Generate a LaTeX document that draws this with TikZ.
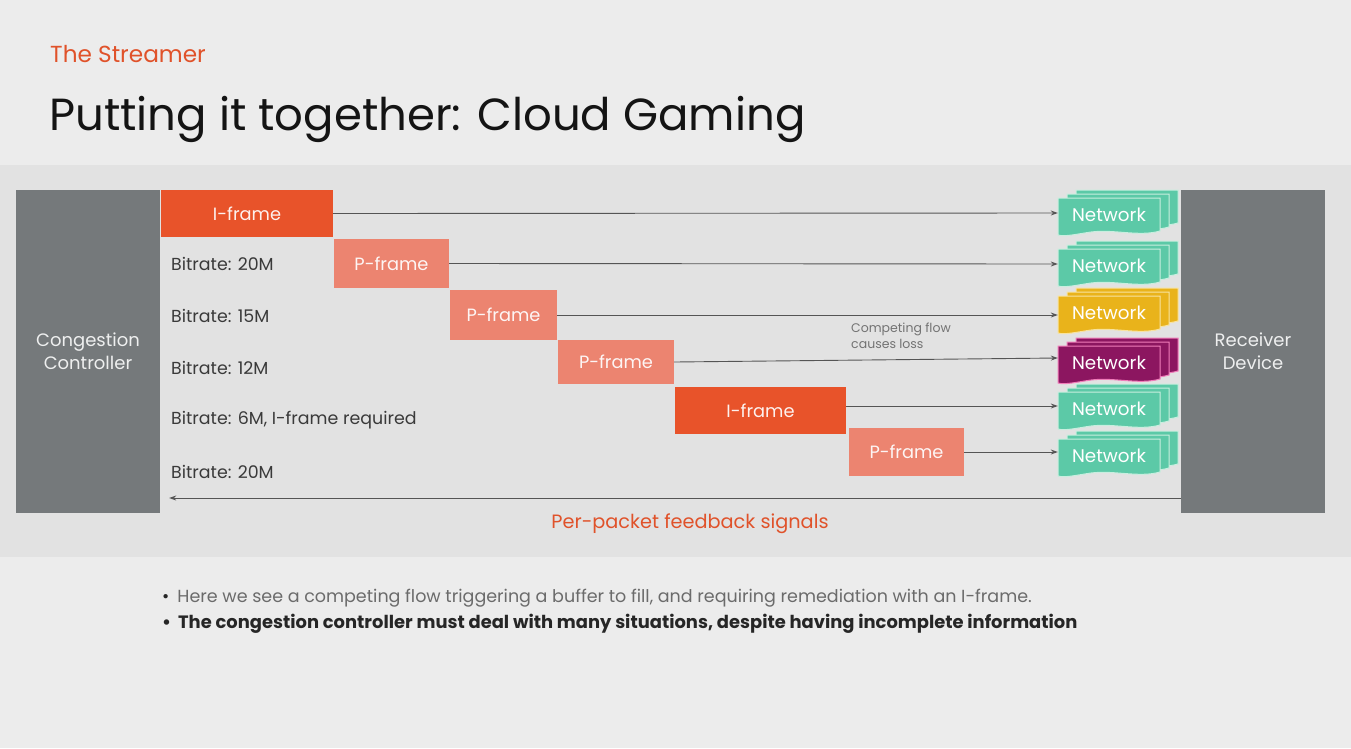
\documentclass[tikz,border=0pt]{standalone}
\usepackage{fontspec}
\setmainfont{Poppins}
\usetikzlibrary{arrows.meta}

\definecolor{pagebg}{HTML}{ECECEC}
\definecolor{bandbg}{HTML}{E2E2E2}
\definecolor{boxgray}{HTML}{75797B}
\definecolor{iframec}{HTML}{E8532A}
\definecolor{pframec}{HTML}{EC8470}
\definecolor{accent}{HTML}{E0522A}
\definecolor{tealc}{HTML}{5CC9A7}
\definecolor{tealedge}{HTML}{C9EEDF}
\definecolor{yellowc}{HTML}{E9B31B}
\definecolor{yellowedge}{HTML}{F8E3A0}
\definecolor{purplec}{HTML}{8C1660}
\definecolor{purpleedge}{HTML}{F07DBA}
\definecolor{linec}{HTML}{555555}
\definecolor{labelc}{HTML}{3A3A3A}

\tikzset{
  endbox/.style={fill=boxgray, text=white!88!boxgray, minimum width=144pt, minimum height=323pt,
    inner sep=0pt, align=center, font=\fontsize{18}{23}\selectfont},
  iframebox/.style={fill=iframec, text=white!92!iframec, inner sep=0pt,
    font=\fontsize{17.8}{20}\selectfont},
  pframebox/.style={fill=pframec, text=white!92!pframec, inner sep=0pt,
    font=\fontsize{17.8}{20}\selectfont},
  ratelabel/.style={anchor=west, text=labelc, inner sep=0pt, font=\fontsize{17.4}{20}\selectfont},
  nettext/.style={inner sep=0pt, text=white, font=\fontsize{18.3}{20}\selectfont},
  netport/.style={minimum width=102pt, minimum height=2pt, inner sep=0pt},
  flow/.style={draw=linec, line width=0.9pt, -{Stealth[length=7pt,width=5pt]}},
}

% stack of three wavy-bottomed sheets; #1 node name, #2 arrow-level point,
% #3 fill, #4 sheet outline, #5 text offset
\newcommand\netstack[5]{%
  \begin{scope}[shift={#2}]
    \foreach \dx/\dy in {18/-8, 9/-4, 0/0} {
      \filldraw[fill=#3, draw=#4, line width=1pt, shift={(\dx,\dy)}]
        (-51,{-15+#5}) -- (51,{-15+#5}) -- (51,{18+#5})
        .. controls (30,{24+#5}) and (5,{16+#5}) .. (-18,{19+#5})
        .. controls (-32,{21+#5}) and (-44,{24+#5}) .. (-51,{22+#5}) -- cycle;
    }
    \node[nettext] at (0,{2+#5}) {Network};
    \node[netport] (#1) at (0,0) {};
  \end{scope}}

\begin{document}
\begin{tikzpicture}[x=1pt,y=-1pt]
  % page and diagram band
  \fill[pagebg] (0,0) rectangle (1351,748);
  \useasboundingbox (0,0) rectangle (1351,748);
  \fill[bandbg] (0,165) rectangle (1351,557);

  % heading
  \node[anchor=base west, inner sep=0pt, text=accent, font=\fontsize{23.2}{27}\selectfont]
    (kicker) at (50,62) {The Streamer};
  \node[anchor=base west, inner sep=0pt, text=black!92, font=\fontsize{45}{52}\selectfont]
    (title) at (49,130) {Putting it together: Cloud Gaming};

  % end points
  \node[endbox] (cc) at (88,351.5) {Congestion\\Controller};
  \node[endbox] (rcv) at (1253,351.5) {Receiver\\Device};

  % encoded frames
  \node[iframebox, minimum width=172pt, minimum height=47pt] (if1) at (247,213.5) {I-frame};
  \node[pframebox, minimum width=115pt, minimum height=49pt] (pf1) at (391.5,263.5) {P-frame};
  \node[pframebox, minimum width=107pt, minimum height=50pt] (pf2) at (503.5,315) {P-frame};
  \node[pframebox, minimum width=116pt, minimum height=44pt] (pf3) at (616,362) {P-frame};
  \node[iframebox, minimum width=171pt, minimum height=47pt] (if2) at (760.5,410.5) {I-frame};
  \node[pframebox, minimum width=115pt, minimum height=48pt] (pf4) at (906.5,452) {P-frame};

  % bitrate decisions
  \node[ratelabel] (r1) at (171,264) {Bitrate: 20M};
  \node[ratelabel] (r2) at (171,315.5) {Bitrate: 15M};
  \node[ratelabel] (r3) at (171,367.5) {Bitrate: 12M};
  \node[ratelabel] (r4) at (171,420) {Bitrate: 6M, I-frame required};
  \node[ratelabel] (r5) at (171,472) {Bitrate: 20M};

  % network paths
  \netstack{n1}{(1109,213)}{tealc}{tealedge}{0}
  \netstack{n2}{(1109,264)}{tealc}{tealedge}{0}
  \netstack{n3}{(1109,315)}{yellowc}{yellowedge}{-4}
  \netstack{n4}{(1109,358)}{purplec}{purpleedge}{3}
  \netstack{n5}{(1109,406)}{tealc}{tealedge}{1}
  \netstack{n6}{(1109,452)}{tealc}{tealedge}{2}

  % frame delivery
  \draw[flow] (if1.east) -- (n1.west);
  \draw[flow] (pf1.east) -- (n2.west);
  \draw[flow] (pf2.east) -- (n3.west);
  \draw[flow] (pf3.east) -- (n4.west);
  \draw[flow] (if2.east |- n5.west) -- (n5.west);
  \draw[flow] (pf4.east) -- (n6.west);

  \node[anchor=north west, inner sep=0pt, align=left, text=black!55,
    font=\fontsize{12.5}{16}\selectfont] (loss) at (851,323) {Competing flow\\causes loss};

  % feedback path
  \coordinate (fbR) at (1181,498);
  \draw[flow, shorten >=9pt] (fbR) -- (cc.east |- fbR);
  \node[text=accent, inner sep=0pt, font=\fontsize{19.3}{23}\selectfont] (fb) at (690,524) {Per-packet feedback signals};

  % notes
  \node[anchor=base west, inner sep=0pt, text=black!58, font=\fontsize{17.5}{20}\selectfont]
    (b1) at (162,602) {{\color{black!85}•}\hspace{8pt}Here we see a competing flow triggering a buffer to fill, and requiring remediation with an I-frame.};
  \node[anchor=base west, inner sep=0pt, text=black!85, font=\fontsize{17.9}{20}\selectfont\bfseries]
    (b2) at (162,628) {•\hspace{7pt}The congestion controller must deal with many situations, despite having incomplete information};
\end{tikzpicture}
\end{document}
